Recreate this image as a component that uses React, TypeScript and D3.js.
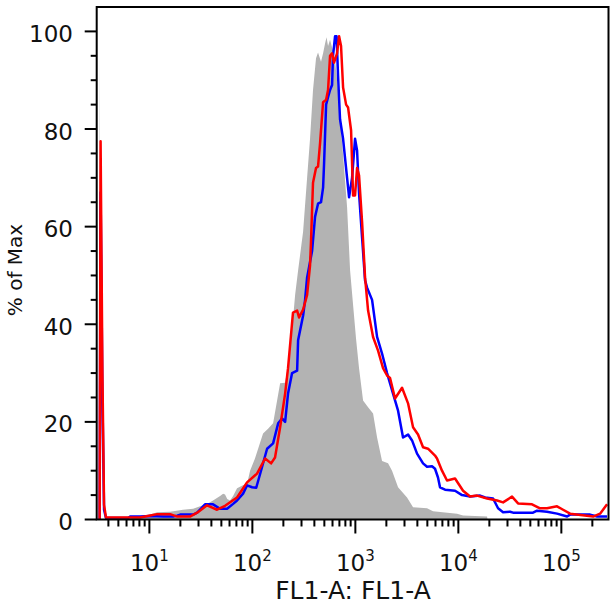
import React from "react";
import * as d3 from "d3";

// FL1-A values and % of Max
const grayFL = [3.22, 3.29, 3.36, 6.5, 8.1, 10.2, 11.9, 15.9, 21.2, 26.6, 31.1, 36.3, 41.5, 48.6, 52, 54.3, 57, 60.7, 65, 71, 81, 89, 95, 106, 127, 142, 159, 186, 208, 232, 260, 278, 311, 340, 363, 388, 415, 434, 464, 486, 508, 525, 543, 568, 607, 635, 679, 726, 777, 831, 889, 950, 1016, 1086, 1188, 1329, 1486, 1625, 1816, 2077, 2271, 2598, 3175, 3632, 4965, 5676, 9712, 11110, 19000, 19210];
const grayPct = [0, 96, 0, 0.2, 0.6, 1.0, 1.5, 1.6, 2.0, 2.2, 2.7, 3.2, 3.9, 4.8, 5.3, 5.1, 4.2, 3.9, 4.8, 6.4, 7.0, 7.4, 10, 12.5, 17.6, 18.6, 19.7, 27.9, 28, 34, 46, 51, 59, 70, 78, 88, 94.5, 95.7, 93.8, 95.5, 97.5, 98.8, 97, 98.3, 96, 94, 88, 80, 72, 64, 51, 44, 37, 31, 24.4, 23, 21.7, 16.8, 12, 11.5, 10, 6.6, 4.5, 2.5, 2.3, 1.7, 1.2, 0.8, 0.6, 0];

const blueFL = [3.29, 3.36, 3.5, 3.63, 3.79, 6.21, 6.5, 7.77, 8.1, 10.2, 13.6, 17, 18.6, 19.9, 26.6, 29.1, 34.7, 41.5, 48.6, 56.8, 65, 71, 81.2, 88.8, 99.4, 109, 124, 139, 159, 178, 194, 208, 222, 243, 272, 278, 311, 325, 340, 380, 406, 434, 464, 486, 497, 520, 543, 568, 594, 607, 635, 657, 679, 710, 760, 831, 869, 929, 993, 1039, 1086, 1162, 1242, 1300, 1453, 1625, 1816, 2031, 2322, 2598, 2904, 3248, 3552, 3972, 4541, 4965, 5551, 5935, 6346, 6636, 7424, 9288, 10860, 13000, 16270, 18180, 21740, 24300, 27180, 31780, 33970, 53100, 58100, 72600, 90800, 113700, 121600, 190200, 222500, 278000];
const bluePct = [0, 67, 25, 2, 0.3, 0.3, 0.6, 0.6, 0.6, 0.7, 0.6, 0.6, 0.8, 1.0, 1.0, 1.4, 3.1, 3.1, 2.2, 2.2, 3.2, 3.9, 5.3, 7.0, 6.6, 6.5, 10.7, 14.5, 15.6, 19.7, 20.7, 20, 25.8, 30, 30.5, 36.7, 41.8, 45, 49.6, 55, 62, 64.7, 65, 68, 73, 85, 86.5, 88, 89, 95, 99, 99, 91, 82, 78, 70, 66, 70, 78, 75.6, 66.8, 57.8, 49, 47.5, 45, 37.4, 34, 30, 25.8, 22.3, 16.8, 17.4, 16.2, 13.5, 11.5, 10.8, 10.9, 10.4, 8.6, 6.6, 6.1, 5.9, 5, 4.7, 4.9, 4.5, 4.3, 2.3, 1.5, 1.6, 1.4, 1.4, 1.8, 1.6, 1.2, 0.6, 1.0, 1.0, 0.6, 0.6];

const redFL = [3.29, 3.36, 3.5, 3.63, 3.79, 8.12, 10.2, 11.9, 15.9, 18.6, 24.8, 29.1, 36.3, 45.4, 54.3, 71, 88.8, 111, 133, 152, 166, 186, 208, 222, 248, 272, 284, 311, 340, 363, 371, 388, 415, 434, 454, 486, 520, 543, 568, 594, 621, 664, 695, 726, 760, 813, 850, 909, 950, 993, 1039, 1086, 1162, 1242, 1329, 1486, 1661, 1857, 2031, 2172, 2428, 2840, 3248, 3632, 4062, 4541, 5077, 5935, 6206, 6939, 7763, 9288, 11110, 13000, 15200, 19000, 23780, 27180, 33200, 38000, 51900, 62100, 72600, 90800, 104000, 121600, 203500, 237800, 278000];
const redPct = [0, 77.5, 30, 3, 0.4, 0.4, 0.8, 1.1, 1.1, 0.6, 0.6, 1.4, 2.9, 2.0, 2.8, 4.5, 7.6, 9.4, 12.5, 11.5, 12.7, 18.9, 25.8, 31, 42.4, 42.8, 41.4, 43, 46, 52, 57, 69, 72, 72.3, 77, 85.5, 86, 88, 95, 95.5, 93.6, 95.5, 99, 97, 88.5, 85, 84.4, 79.7, 66.4, 66.4, 72, 70.5, 61, 49.6, 42.8, 37.4, 34.6, 31, 29.5, 29, 24.8, 27, 23.8, 18.9, 17.4, 14.8, 14.5, 13.1, 12.5, 10, 8, 8.4, 5.9, 4.7, 4.9, 4.3, 3.9, 3.5, 4.7, 3.3, 3.1, 2.3, 2.3, 2.7, 2.0, 1.2, 0.6, 1.2, 3.1];

const yTicks = [0, 20, 40, 60, 80, 100];
const xDecades = [1, 2, 3, 4, 5];
const xDomain = [3.08, 287000];
const yDomain = [0, 105];

const W = 616;
const H = 606;
const left = 96.7;
const right = 608.5;
const top = 7;
const bottom = 519.5;
const FONT = "DejaVu Sans, sans-serif";

export default function App() {
  const x = d3.scaleLog().domain(xDomain).range([left, right]);
  const y = d3.scaleLinear().domain(yDomain).range([bottom, top]);

  const toPts = (fl: number[], pct: number[]) => fl.map((v, i) => [v, pct[i]] as [number, number]);
  const gray = toPts(grayFL, grayPct);
  const blue = toPts(blueFL, bluePct);
  const red = toPts(redFL, redPct);

  const area = d3
    .area<[number, number]>()
    .x((d) => x(d[0]))
    .y0(y(0))
    .y1((d) => y(d[1]));
  const line = d3
    .line<[number, number]>()
    .x((d) => x(d[0]))
    .y((d) => y(d[1]));

  const yMinor = d3.range(0, 101, 5).filter((v) => v % 20 !== 0);
  const xMinor: number[] = [];
  for (let e = 0; e <= 5; e++) {
    for (let m = 2; m <= 9; m++) {
      const v = m * Math.pow(10, e);
      if (v >= xDomain[0] && v <= xDomain[1]) xMinor.push(v);
    }
  }

  return (
    <svg width={W} height={H} style={{ position: "absolute", left: 0, top: 0, background: "#fff" }}>
      <defs>
        <clipPath id="plot">
          <rect x={left} y={top} width={right - left} height={bottom - top} />
        </clipPath>
      </defs>
      <g clipPath="url(#plot)">
        <path d={area(gray) || ""} fill="#b3b3b3" stroke="none" />
        <path d={line(blue) || ""} fill="none" stroke="#0000ff" strokeWidth={2.5} strokeLinejoin="round" />
        <path d={line(red) || ""} fill="none" stroke="#ff0000" strokeWidth={2.5} strokeLinejoin="round" />
      </g>
      <rect x={left} y={top} width={right - left} height={bottom - top} fill="none" stroke="#000" strokeWidth={2} />
      {yTicks.map((t) => (
        <g key={"y" + t}>
          <line x1={left - 12} x2={left} y1={y(t)} y2={y(t)} stroke="#000" strokeWidth={2} />
          <text x={73} y={y(t) + 10.5} textAnchor="end" fontFamily={FONT} fontSize={23} fill="#111">
            {t}
          </text>
        </g>
      ))}
      {yMinor.map((t) => (
        <line key={"ym" + t} x1={left - 6} x2={left} y1={y(t)} y2={y(t)} stroke="#000" strokeWidth={2} />
      ))}
      {xDecades.map((e) => {
        const px = x(Math.pow(10, e));
        return (
          <g key={"x" + e}>
            <line x1={px} x2={px} y1={bottom} y2={bottom + 14} stroke="#000" strokeWidth={2} />
            <text x={px} y={571} textAnchor="middle" fontFamily={FONT} fontSize={23} fill="#111">
              10
              <tspan dy={-10} fontSize={15}>
                {e}
              </tspan>
            </text>
          </g>
        );
      })}
      {xMinor.map((v) => (
        <line key={"xm" + v} x1={x(v)} x2={x(v)} y1={bottom} y2={bottom + 7} stroke="#000" strokeWidth={2} />
      ))}
      <text x={353} y={599} textAnchor="middle" fontFamily={FONT} fontSize={25} fill="#111">
        FL1-A: FL1-A
      </text>
      <text
        transform={`translate(22, 270) rotate(-90)`}
        textAnchor="middle"
        fontFamily={FONT}
        fontSize={20}
        fill="#111"
      >
        % of Max
      </text>
    </svg>
  );
}
